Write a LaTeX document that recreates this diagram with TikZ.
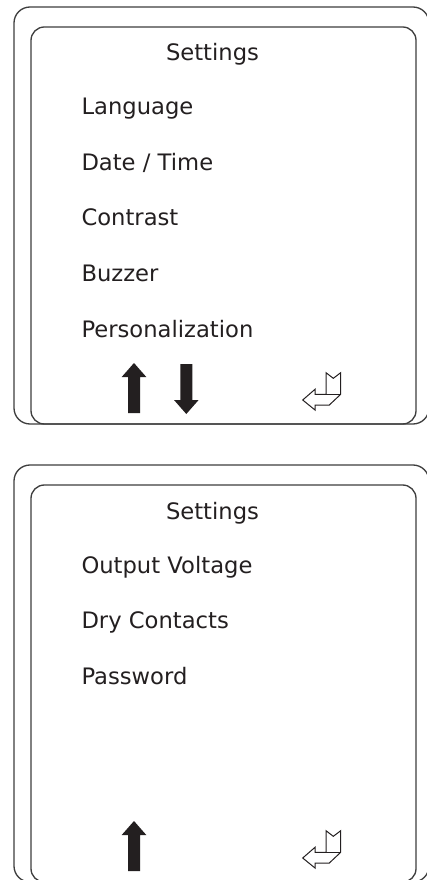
\documentclass[tikz,border=0pt]{standalone}
\usepackage{fontspec}
\setmainfont{DejaVu Sans}
\definecolor{ink}{RGB}{35,31,32}
\definecolor{rim}{RGB}{62,62,62}

\tikzset{every picture/.style={line width=0.75pt}}
\tikzset{
  frame/.style={draw=rim, line width=1pt, rounded corners=12pt},
  screen/.style={draw=rim, line width=1pt, rounded corners=10pt},
  heading/.style={text=ink, inner sep=0pt, anchor=base, font=\fontsize{17}{20}\selectfont},
  entry/.style={heading, anchor=base west},
  keyarrow/.style={fill=ink, draw=none},
  enterkey/.style={draw=ink, line width=0.75pt, line join=miter}
}

\begin{document}
\begin{tikzpicture}[x=0.75pt,y=0.75pt,yscale=-1,xscale=1]
	\useasboundingbox (0,0) rectangle (426,880);

	%Shape: Rounded Rect [upper frame]
	\draw [frame] (14,7) rectangle (429,424) ;
	%Shape: Rounded Rect [upper screen]
	\draw [screen] (31,27) rectangle (416,424) ;
	%Shape: Up Arrow
	\draw [keyarrow] (128,413) -- (128,377) -- (121.7,377) -- (134,363) -- (146.3,377) -- (140,377) -- (140,413) -- cycle ;
	%Shape: Down Arrow
	\draw [keyarrow] (180.3,364) -- (192.3,364) -- (192.3,400) -- (198.6,400) -- (186.3,414) -- (174,400) -- (180.3,400) -- cycle ;
	%Shape: Enter Key
	\draw [enterkey] (326,372.7) -- (333.3,378.3) -- (340.7,372.7) -- (340.7,394.3) -- (329.3,405) -- (315,405) -- (315,410) -- (302.7,400) -- (315,389.3) -- (315,394.3) -- (326,394.3) -- cycle ;
	%Straight Lines
	\draw [enterkey] (326,394.3) -- (340.7,394.3) ;

	%Shape: Rounded Rect [lower frame]
	\draw [frame] (14,465) rectangle (429,882) ;
	%Shape: Rounded Rect [lower screen]
	\draw [screen] (31,485) rectangle (416,882) ;
	%Shape: Up Arrow
	\draw [keyarrow] (128,871) -- (128,835) -- (121.7,835) -- (134,821) -- (146.3,835) -- (140,835) -- (140,871) -- cycle ;
	%Shape: Enter Key
	\draw [enterkey] (326,830.7) -- (333.3,836.3) -- (340.7,830.7) -- (340.7,852.3) -- (329.3,863) -- (315,863) -- (315,868) -- (302.7,858) -- (315,847.3) -- (315,852.3) -- (326,852.3) -- cycle ;
	%Straight Lines
	\draw [enterkey] (326,852.3) -- (340.7,852.3) ;

	% Text Node
	\draw (212.5,61) node [heading] (title1) {Settings};
	% Text Node
	\draw (81,115) node [entry] (lang) {Language};
	% Text Node
	\draw (81,170.5) node [entry] (datetime) {Date / Time};
	% Text Node
	\draw (81,226) node [entry] (contrast) {Contrast};
	% Text Node
	\draw (81,281.5) node [entry] (buzzer) {Buzzer};
	% Text Node
	\draw (81,337) node [entry] (personal) {Personalization};
	% Text Node
	\draw (212.5,519) node [heading] (title2) {Settings};
	% Text Node
	\draw (81,573) node [entry] (outvolt) {Output Voltage};
	% Text Node
	\draw (81,628.5) node [entry] (drycont) {Dry Contacts};
	% Text Node
	\draw (81,684) node [entry] (passwd) {Password};

\end{tikzpicture}
\end{document}
